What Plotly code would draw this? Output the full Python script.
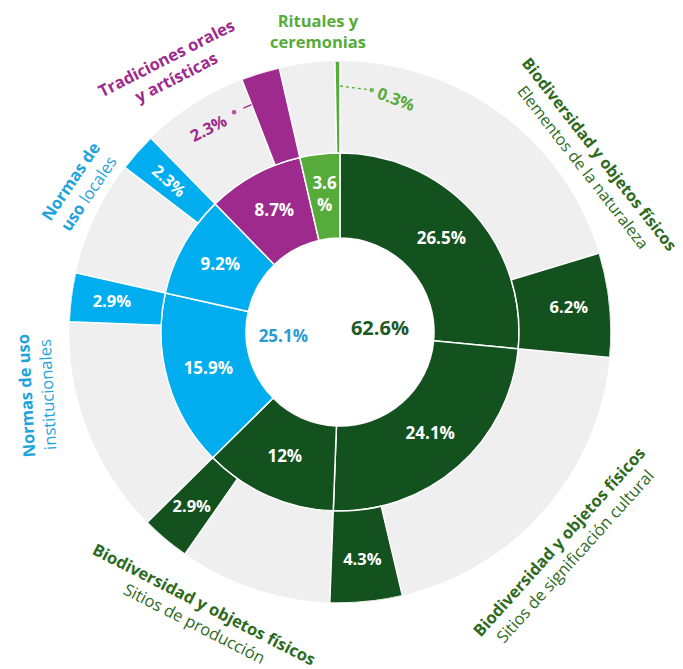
import numpy as np
import plotly.graph_objects as go

# ---------------- data ----------------
categories = [
    "Elementos de la naturaleza",
    "Sitios de significación cultural",
    "Sitios de producción",
    "Normas de uso institucionales",
    "Normas de uso locales",
    "Tradiciones orales y artísticas",
    "Rituales y ceremonias",
]
inner_values = [26.5, 24.1, 12.0, 15.9, 9.2, 8.7, 3.6]
outer_values = [6.2, 4.3, 2.9, 2.9, 2.3, 2.3, 0.3]
center_groups = ["Biodiversidad y objetos físicos", "Normas de uso"]
center_totals = [62.6, 25.1]

# ---------------- styles ----------------
DG = "#13511F"
BLUE = "#00AEEF"
PURPLE = "#9E2A8E"
LG = "#57AB3A"
GRAY = "#EFEFEF"
cat_colors = [DG, DG, DG, BLUE, BLUE, PURPLE, LG]
DG_TXT = "#2E6A1E"
BLUE_TXT = "#1FA3DC"
FONT = "Open Sans"

W, H = 683, 669
CX, CY = 340, 332          # centre of the polar area, px
R_HOLE, R_IN, R_OUT = 94, 179, 271

def px2paper(x, y):
    return x / W, 1 - y / H

def polar2paper(theta, r):
    t = np.deg2rad(theta)
    return px2paper(CX + r * np.sin(t), CY - r * np.cos(t))

vals = np.array(inner_values)
widths = vals * 3.6
ends = np.cumsum(widths)
mids = ends - widths / 2
ow = np.array(outer_values) * 3.6
omids = ends - ow / 2

fig = go.Figure()

# gray background ring
fig.add_trace(go.Barpolar(theta=[90, 270], width=[180, 180], base=[R_HOLE, R_HOLE],
                          r=[R_OUT - R_HOLE] * 2, marker_color=GRAY,
                          marker_line_width=0, hoverinfo="skip", showlegend=False))
# inner ring
fig.add_trace(go.Barpolar(theta=mids, width=widths, base=[R_HOLE] * len(vals),
                          r=[R_IN - R_HOLE] * len(vals), marker_color=cat_colors,
                          marker_line_color="white", marker_line_width=1.5,
                          text=categories, showlegend=False))
# outer ring
fig.add_trace(go.Barpolar(theta=omids, width=ow, base=[R_IN] * len(vals),
                          r=[R_OUT - R_IN] * len(vals), marker_color=cat_colors,
                          marker_line_color="white", marker_line_width=1.5,
                          text=categories, showlegend=False))

# inner labels
inner_txt = [f"<b>{v:g}%</b>" for v in inner_values]
inner_txt[-1] = f"<b>{inner_values[-1]:g}<br>%</b>"
fig.add_trace(go.Scatterpolar(theta=mids, r=[137] * len(vals), mode="text",
                              text=inner_txt, textfont=dict(family=FONT, size=17, color="white"),
                              hoverinfo="skip", showlegend=False))
# outer labels (inside bars, horizontal)
fig.add_trace(go.Scatterpolar(theta=omids[:4], r=[230] * 4, mode="text",
                              text=[f"<b>{v:g}%</b>" for v in outer_values[:4]],
                              textfont=dict(family=FONT, size=16.5, color="white"),
                              hoverinfo="skip", showlegend=False))

# centre totals
fig.add_trace(go.Scatterpolar(theta=[87, 264], r=[40, 57], mode="text",
                              text=[f"<b>{v:g}%</b>" for v in center_totals],
                              textfont=dict(family=FONT, size=[20, 17], color=["#1D5A23", "#2A9AD3"]),
                              hoverinfo="skip", showlegend=False))

# leader lines for small outer bars
g_start = ends[6]            # end edge of green bar
fig.add_trace(go.Scatterpolar(theta=[g_start, g_start + 7.5], r=[246, 244], mode="lines+markers",
                              line=dict(color=LG, width=1.3, dash="dot"),
                              marker=dict(size=[0, 6], color=LG), hoverinfo="skip", showlegend=False))
p_start = ends[5] - ow[5]    # start edge of purple bar
fig.add_trace(go.Scatterpolar(theta=[p_start, p_start - 4.5], r=[244, 244], mode="lines+markers",
                              line=dict(color=PURPLE, width=1.3, dash="dash"),
                              marker=dict(size=[0, 6], color=PURPLE), hoverinfo="skip", showlegend=False))

annotations = []
def ann(x, y, text, color, size=16, angle=0):
    annotations.append(dict(x=x, y=y, xref="paper", yref="paper", text=text, showarrow=False,
                            textangle=angle, xanchor="center", yanchor="middle", align="center",
                            font=dict(family=FONT, size=size, color=color)))

# rotated outer label (blue 2.3 %)
x, y = polar2paper(omids[4], 228)
ann(x, y, f"<b>{outer_values[4]:g}%</b>", "white", 16.5, omids[4] - 270)
# outside labels
x, y = polar2paper(p_start - 11.5, 243)
ann(x, y, f"<b>{outer_values[5]:g}%</b>", PURPLE, 16.5, -27)
x, y = polar2paper(g_start + 13.5, 240)
ann(x, y, f"<b>{outer_values[6]:g}%</b>", LG, 16.5, 20)

# category titles
TS = 16.5
ann(*px2paper(318, 31), "<b>Rituales y<br>ceremonias</b>", LG, TS, 0)
ann(*px2paper(171, 67), "<b>Tradiciones orales<br>y artísticas</b>", PURPLE, TS, -27)
ann(*px2paper(79, 187), "<b>Normas de</b><br><b>uso</b> locales", BLUE_TXT, TS, -56)
ann(*px2paper(36, 395), "<b>Normas de uso</b><br>institucionales", BLUE_TXT, TS, -93)
ann(*px2paper(591, 161), f"<b>{center_groups[0]}</b><br>Elementos de la naturaleza", DG_TXT, 16, 52)
ann(*px2paper(566, 549), f"<b>{center_groups[0]}</b><br>Sitios de significación cultural", DG_TXT, TS, -48)
ann(*px2paper(199, 613), f"<b>{center_groups[0]}</b><br>Sitios de producción", DG_TXT, TS, 27)

fig.update_layout(
    width=W, height=H, margin=dict(l=0, r=0, t=0, b=0),
    paper_bgcolor="white", plot_bgcolor="white",
    font=dict(family=FONT),
    polar=dict(
        domain=dict(x=[(CX - R_OUT) / W, (CX + R_OUT) / W],
                    y=[(H - CY - R_OUT) / H, (H - CY + R_OUT) / H]),
        bgcolor="white", barmode="overlay", bargap=0, hole=0,
        angularaxis=dict(rotation=90, direction="clockwise", visible=False, showgrid=False),
        radialaxis=dict(range=[0, R_OUT], visible=False, showgrid=False),
    ),
    annotations=annotations,
    showlegend=False,
)

fig.write_html("out.html")
